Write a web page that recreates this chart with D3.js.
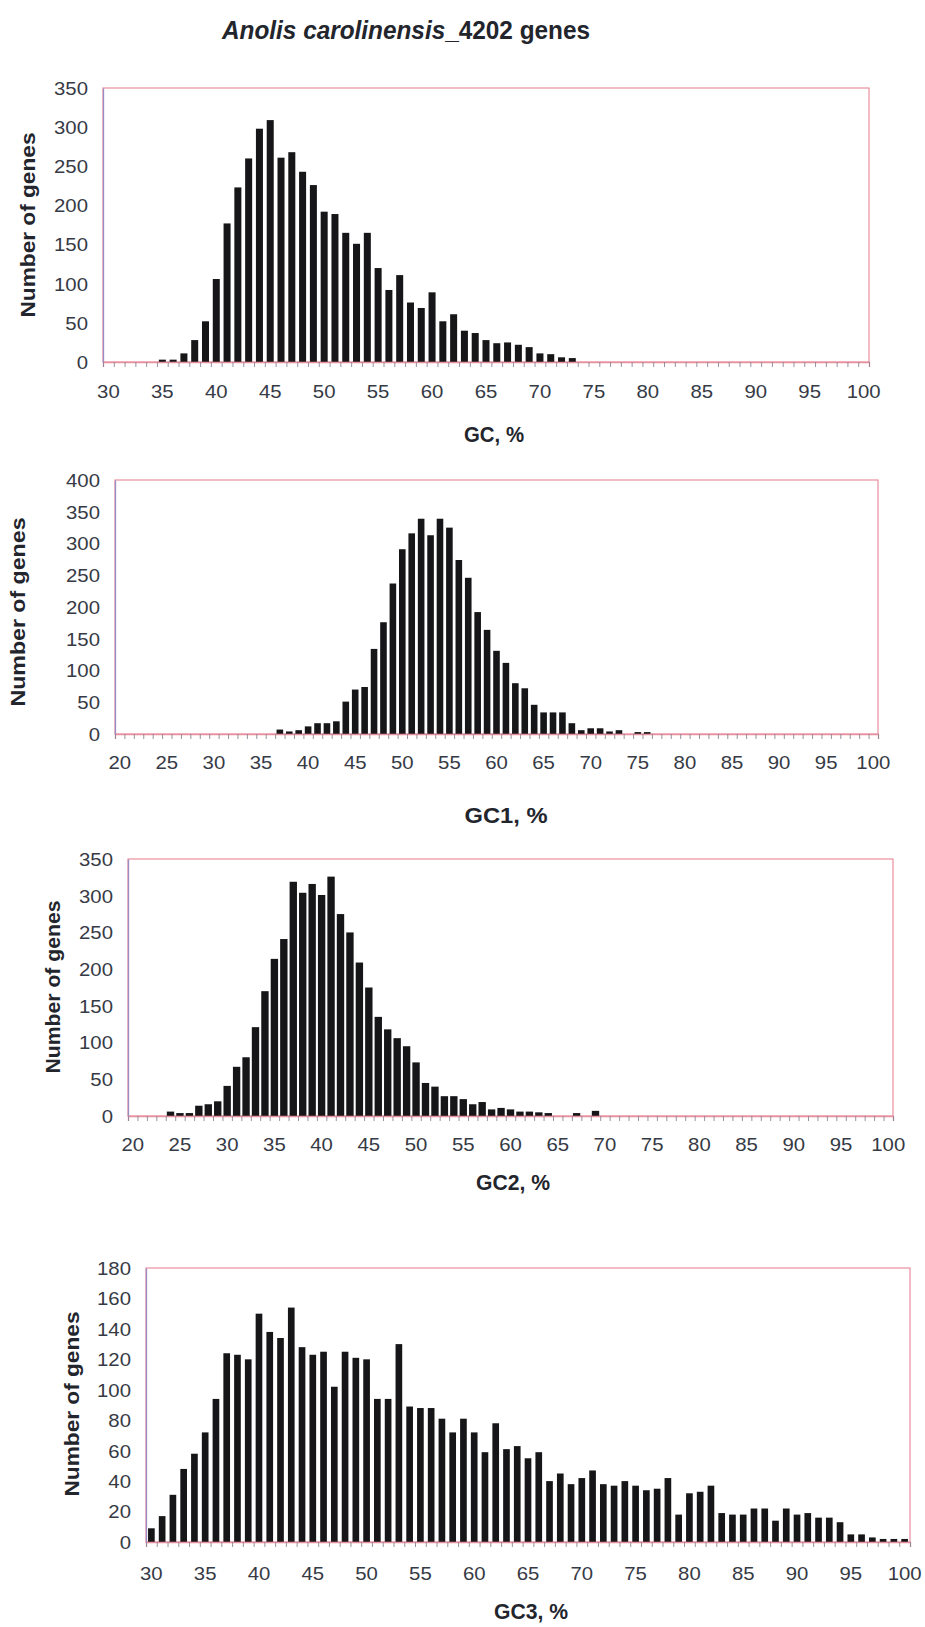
<!DOCTYPE html>
<html><head><meta charset="utf-8">
<script src="https://cdn.jsdelivr.net/npm/d3@7/dist/d3.min.js"></script>
<style>body{margin:0;background:#fff}svg{display:block}</style>
</head><body>
<svg id="chart" width="925" height="1627"></svg>
<script>
// ---------- data ----------
const titleItalic = "Anolis carolinensis";
const titleRest = "_4202 genes";
const yAxisTitle = "Number of genes";

// GC, % : categories 30..100
const gcRange = [30, 100];
const gcValues = [
  0,0,0,0,0, 3,3,11,28,52,
  106,177,223,260,298, 309,261,268,243,226,
  192,189,165,151,165, 120,92,111,76,69,
  89,52,61,40,37, 28,24,25,22,19,
  11,10,6,5,0, 0,0,0,0,0,
  0,0,0,0,0, 0,0,0,0,0,
  0,0,0,0,0, 0,0,0,0,0,
  0
];
const gcYTicks = [0,50,100,150,200,250,300,350];

// GC1, % : categories 20..100
const gc1Range = [20, 100];
const gc1Values = [
  0,0,0,0,0, 0,0,0,0,0,
  0,0,0,0,0, 0,0,7,4,6,
  12,17,17,20,51, 70,74,134,176,237,
  291,316,339,313,339, 325,274,246,192,164,
  131,112,80,72,46, 34,34,34,17,6,
  9,9,4,6,0, 3,3,0,0,0,
  0,0,0,0,0, 0,0,0,0,0,
  0,0,0,0,0, 0,0,0,0,0,
  0
];
const gc1YTicks = [0,50,100,150,200,250,300,350,400];

// GC2, % : categories 20..100
const gc2Range = [20, 100];
const gc2Values = [
  0,0,0,0,6, 4,4,14,16,20,
  41,67,80,121,170, 214,241,319,304,316,
  301,326,275,250,209, 175,135,118,106,95,
  73,45,40,27,27, 23,16,19,9,11,
  9,6,6,5,4, 0,0,4,0,7,
  0,0,0,0,0, 0,0,0,0,0,
  0,0,0,0,0, 0,0,0,0,0,
  0,0,0,0,0, 0,0,0,0,0,
  0
];
const gc2YTicks = [0,50,100,150,200,250,300,350];

// GC3, % : categories 30..100
const gc3Range = [30, 100];
const gc3Values = [
  9,17,31,48,58, 72,94,124,123,120,
  150,138,134,154,128, 123,125,102,125,121,
  120,94,94,130,89, 88,88,81,72,81,
  72,59,78,61,63, 55,59,40,45,38,
  42,47,38,37,40, 37,34,35,42,18,
  32,33,37,19,18, 18,22,22,14,22,
  18,19,16,16,13, 5,5,3,2,2,
  2
];
const gc3YTicks = [0,20,40,60,80,100,120,140,160,180];

const xTickLabels = [20,25,30,35,40,45,50,55,60,65,70,75,80,85,90,95,100];
const xTitles = ["GC, %", "GC1, %", "GC2, %", "GC3, %"];

// ---------- layout (positions / styles) ----------
const layout = [
  {box:[103,88,869,362],  pad:0.35, yT:[28,225,185],  xT:[494,442,60], tickBase:398},
  {box:[115,480,878,734], pad:0.30, yT:[18,612,189],  xT:[506,823,83], tickBase:769},
  {box:[128,859,893,1116],pad:0.22, yT:[53,987,173],  xT:[513,1190,74],tickBase:1151},
  {box:[146,1268,910,1542],pad:0.38,yT:[72,1404,185], xT:[531,1619,74],tickBase:1580}
];
const series = [
  {range:gcRange,  values:gcValues,  yTicks:gcYTicks},
  {range:gc1Range, values:gc1Values, yTicks:gc1YTicks},
  {range:gc2Range, values:gc2Values, yTicks:gc2YTicks},
  {range:gc3Range, values:gc3Values, yTicks:gc3YTicks}
];

const svg = d3.select("#chart");
const FONT = "'Liberation Sans', Arial, sans-serif";
const TICK_COLOR = "#363a45";
const BORDER = "#e8909e";

// title
const t = svg.append("text")
  .attr("x", 222).attr("y", 39)
  .attr("font-family", FONT).attr("font-size", 26).attr("font-weight", "bold")
  .attr("fill", "#23252d")
  .attr("textLength", 368).attr("lengthAdjust", "spacingAndGlyphs");
t.append("tspan").attr("font-style", "italic").text(titleItalic);
t.append("tspan").text(titleRest);

series.forEach((s, i) => {
  const L = layout[i];
  const [x0, y0, x1, y1] = L.box;
  const cats = d3.range(s.range[0], s.range[1] + 1);
  const yMax = s.yTicks[s.yTicks.length - 1];

  const x = d3.scaleBand().domain(cats).range([x0, x1]).paddingInner(L.pad).paddingOuter(L.pad / 2);
  const xb = d3.scaleLinear().domain([s.range[0] - 0.5, s.range[1] + 0.5]).range([x0, x1]);
  const y = d3.scaleLinear().domain([0, yMax]).range([y1, y0]);

  const g = svg.append("g");

  // plot border
  g.append("rect").attr("x", x0).attr("y", y0).attr("width", x1 - x0).attr("height", y1 - y0)
    .attr("fill", "#fff").attr("stroke", BORDER).attr("stroke-width", 1.2);

  // bars
  g.append("g").selectAll("rect").data(cats.map((c, k) => ({c, v: s.values[k]})).filter(d => d.v > 0))
    .join("rect")
    .attr("x", d => x(d.c)).attr("width", x.bandwidth())
    .attr("y", d => y(d.v)).attr("height", d => y(0) - y(d.v))
    .attr("fill", "#161618");

  // minor tick marks at category boundaries
  const bAxis = g.append("g").attr("transform", `translate(0,${y1})`)
    .call(d3.axisBottom(xb).tickValues(d3.range(s.range[0] - 0.5, s.range[1] + 1, 1)).tickSize(5).tickFormat(""));
  bAxis.select(".domain").attr("stroke", BORDER).attr("stroke-width", 1.3);
  bAxis.selectAll(".tick line").attr("stroke", "#8c8494").attr("stroke-width", 0.9);

  // x labels
  const xl = g.append("g").attr("transform", `translate(0,${L.tickBase})`)
    .call(d3.axisBottom(x).tickValues(xTickLabels.filter(v => v >= s.range[0])).tickSize(0).tickPadding(0));
  xl.select(".domain").remove();
  xl.selectAll("text").attr("y", 0).attr("dy", 0)
    .attr("font-family", FONT).attr("font-size", 17.7).attr("fill", TICK_COLOR)
    .attr("transform", "scale(1.15,1)");

  // y axis
  const ya = g.append("g").attr("transform", `translate(${x0},0)`)
    .call(d3.axisLeft(y).tickValues(s.yTicks).tickSize(0).tickPadding(0));
  ya.select(".domain").attr("stroke", "#9a8cc0").attr("stroke-width", 1.3);
  ya.selectAll("text").attr("x", 0).attr("dy", "0.36em")
    .attr("font-family", FONT).attr("font-size", 17.7).attr("fill", TICK_COLOR)
    .attr("transform", "translate(-15,0) scale(1.15,1)");

  // y title
  svg.append("text")
    .attr("transform", `translate(${L.yT[0] + 7},${L.yT[1]}) rotate(-90)`)
    .attr("text-anchor", "middle")
    .attr("font-family", FONT).attr("font-size", 21).attr("font-weight", "bold").attr("fill", "#23252d")
    .attr("textLength", L.yT[2]).attr("lengthAdjust", "spacingAndGlyphs")
    .text(yAxisTitle);

  // x title
  svg.append("text")
    .attr("x", L.xT[0]).attr("y", L.xT[1])
    .attr("text-anchor", "middle")
    .attr("font-family", FONT).attr("font-size", 22).attr("font-weight", "bold").attr("fill", "#23252d")
    .attr("textLength", L.xT[2]).attr("lengthAdjust", "spacingAndGlyphs")
    .text(xTitles[i]);
});
</script>
</body></html>
